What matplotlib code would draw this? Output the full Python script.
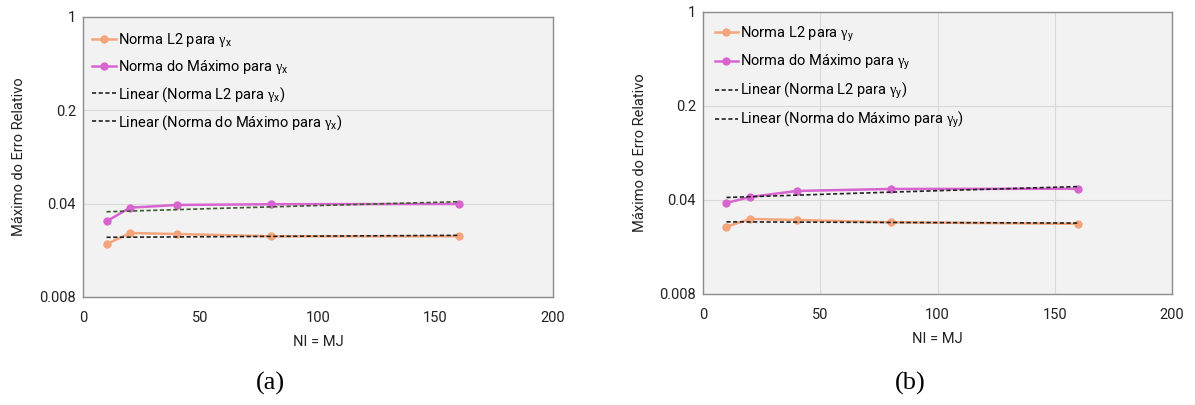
import matplotlib.pyplot as plt
import numpy as np
from matplotlib.ticker import FixedLocator, FixedFormatter, NullLocator

plt.rcParams['font.family'] = ['Roboto', 'DejaVu Sans']
plt.rcParams['mathtext.fontset'] = 'custom'
plt.rcParams['mathtext.it'] = 'Liberation Serif'
plt.rcParams['mathtext.rm'] = 'Liberation Serif'
plt.rcParams['mathtext.sf'] = 'Roboto'

# malhas NI = MJ
ni = [10, 20, 40, 80, 160]

# erro relativo para gamma_x
l2_x = [0.0199, 0.0241, 0.0237, 0.0228, 0.0228]
max_x = [0.0295, 0.0373, 0.0391, 0.0396, 0.0398]

# erro relativo para gamma_y
l2_y = [0.0253, 0.0289, 0.0284, 0.0273, 0.0266]
max_y = [0.0380, 0.0421, 0.0467, 0.0483, 0.0485]

y_ticks = [0.008, 0.04, 0.2, 1]
y_labels = ['0.008', '0.04', '0.2', '1']
x_ticks = [0, 50, 100, 150, 200]

c_l2 = '#F4A57C'
c_max = '#D865CF'
bg = '#F2F2F2'


def linear_fit(x, y):
    a, b = np.polyfit(x, y, 1)
    xs = np.linspace(min(x), max(x), 200)
    return xs, a * xs + b


def panel(ax, l2, mx, sub, trend_col, vgrid, leg_anchor):
    ax.set_facecolor(bg)
    ax.set_yscale('log')
    ax.set_ylim(0.008, 1)
    ax.set_xlim(0, 200)
    ax.yaxis.set_major_locator(FixedLocator(y_ticks))
    ax.yaxis.set_major_formatter(FixedFormatter(y_labels))
    ax.yaxis.set_minor_locator(NullLocator())
    ax.set_xticks(x_ticks)
    ax.tick_params(length=0, labelsize=10.5, colors='#222222')
    ax.tick_params(axis='y', pad=5)
    ax.tick_params(axis='x', pad=10)
    for s in ax.spines.values():
        s.set_color('#8C8C8C')
        s.set_linewidth(1)

    for v in [0.04, 0.2]:
        ax.axhline(v, color='#D9D9D9', lw=0.8, zorder=1)
    if vgrid:
        for v in [50, 100, 150]:
            ax.axvline(v, color='#D9D9D9', lw=0.8, zorder=1)

    g = r'$\gamma_{\mathsf{' + sub + '}}$'
    ax.plot(ni, l2, '-o', color=c_l2, lw=1.8, ms=5, zorder=3,
            label='Norma L2 para ' + g)
    ax.plot(ni, mx, '-o', color=c_max, lw=1.8, ms=5, zorder=3,
            label='Norma do Máximo para ' + g)
    xs, ys = linear_fit(ni, l2)
    ax.plot(xs, ys, color='#222222', lw=1.2, ls=(0, (2.5, 1.5)), zorder=4,
            label='Linear (Norma L2 para ' + g + ')')
    xs, ys = linear_fit(ni, mx)
    ax.plot(xs, ys, color=trend_col, lw=1.2, ls=(0, (2.5, 1.5)), zorder=4,
            label='Linear (Norma do Máximo para ' + g + ')')

    leg = ax.legend(loc='upper left', bbox_to_anchor=leg_anchor, frameon=False,
                    fontsize=10.5, handlelength=1.6, handletextpad=0.15,
                    labelspacing=0.62, borderaxespad=0, borderpad=0)
    for h in leg.legend_handles[2:]:
        h.set_color('#222222')

    ax.set_ylabel('Máximo do Erro Relativo', fontsize=10.5, color='#222222')
    ax.set_xlabel('NI = MJ', fontsize=10.5, color='#222222')


fig = plt.figure(figsize=(11.95, 4.05), dpi=100)
ax1 = fig.add_axes([0.0695, 0.2667, 0.3933, 0.6914])
ax2 = fig.add_axes([0.5883, 0.2741, 0.3925, 0.6963])

panel(ax1, l2_x, max_x, 'x', '#3F5A2E', False, (0.02, 0.95))
panel(ax2, l2_y, max_y, 'y', '#222222', True, (0.025, 0.955))

ax1.yaxis.set_label_coords(-0.122, 0.5)
ax2.yaxis.set_label_coords(-0.12, 0.5)
ax1.xaxis.set_label_coords(0.5, -0.135)
ax2.xaxis.set_label_coords(0.5, -0.135)

fig.text(0.226, 0.054, '(a)', family='Liberation Serif', fontsize=19,
         ha='center', va='center')
fig.text(0.7615, 0.054, '(b)', family='Liberation Serif', fontsize=19,
         ha='center', va='center')

fig.savefig('out.png', dpi=100)
